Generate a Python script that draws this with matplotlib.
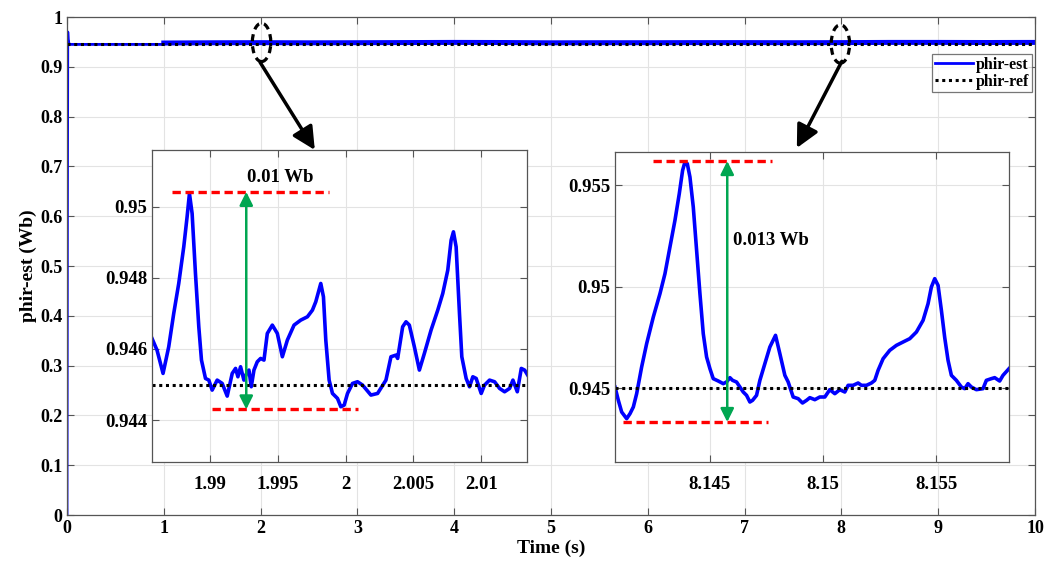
import numpy as np
import matplotlib
matplotlib.use("Agg")
import matplotlib.pyplot as plt
from matplotlib.patches import Ellipse

plt.rcParams['font.family'] = ['Liberation Serif', 'DejaVu Serif']
plt.rcParams['font.weight'] = 'bold'
plt.rcParams['axes.labelweight'] = 'bold'

# rotor flux reference (Wb)
phir_ref = 0.945

# full run: start-up transient, then the steady flux with ripple
t_start = [0.0, 0.004, 0.008, 0.012, 0.02, 0.04, 0.5, 1.0]
phi_start = [0.0, 0.6, 0.97, 0.955, 0.946, 0.945, 0.945, 0.945]
t_ripple = [1.0, 1.5, 2.0, 2.5, 3.0, 3.5, 4.0, 4.5, 5.0, 5.5, 6.0, 6.5,
            7.0, 7.5, 8.0, 8.5, 9.0, 9.5, 10.0]
phi_ripple = [0.9478, 0.9483, 0.9485, 0.9482, 0.9484, 0.9487, 0.949, 0.9488,
              0.9482, 0.9484, 0.9484, 0.9486, 0.9486, 0.9484, 0.9486, 0.949,
              0.949, 0.9488, 0.949]

# zoom around t = 2 s
t_z1 = [1.985739, 1.986108, 1.986552, 1.986971, 1.98734, 1.987709, 1.988079,
        1.988325, 1.988498, 1.988695, 1.988941, 1.989187, 1.989384, 1.98968,
        1.989926, 1.990172, 1.990542, 1.990911, 1.991281, 1.99165, 1.991897,
        1.992069, 1.992266, 1.992512, 1.992709, 1.992882, 1.993054, 1.993251,
        1.993497, 1.993744, 1.99399, 1.994236, 1.994606, 1.994975, 1.995345,
        1.995714, 1.996207, 1.996699, 1.997192, 1.997561, 1.997808, 1.998177,
        1.998374, 1.998547, 1.998793, 1.999039, 1.999409, 1.999655, 1.999901,
        2.000148, 2.000517, 2.000886, 2.001256, 2.001872, 2.002364, 2.00298,
        2.003349, 2.003719, 2.003842, 2.004212, 2.004458, 2.004704, 2.005074,
        2.005443, 2.005812, 2.006305, 2.006798, 2.007167, 2.007537, 2.007783,
        2.007955, 2.008152, 2.008399, 2.008571, 2.008891, 2.009138, 2.009384,
        2.00963, 2.01, 2.010246, 2.010615, 2.010985, 2.011354, 2.011724,
        2.012093, 2.012339, 2.01266, 2.012955, 2.013201, 2.013497]
phi_z1 = [0.946296, 0.945968, 0.945312, 0.946062, 0.947, 0.947844, 0.948875,
          0.949719, 0.950375, 0.949812, 0.948125, 0.946625, 0.945687, 0.945171,
          0.945124, 0.944843, 0.945124, 0.945031, 0.944674, 0.945312, 0.945453,
          0.945218, 0.9455, 0.945124, 0.945312, 0.945406, 0.944937, 0.945406,
          0.94564, 0.945734, 0.945687, 0.946437, 0.946672, 0.946437, 0.945781,
          0.94625, 0.946672, 0.946812, 0.946906, 0.947093, 0.947328, 0.947844,
          0.947468, 0.94625, 0.945124, 0.944749, 0.944609, 0.944374, 0.944421,
          0.944749, 0.945031, 0.945078, 0.944984, 0.944703, 0.944749, 0.945124,
          0.945781, 0.945828, 0.945734, 0.946625, 0.946765, 0.946672, 0.946062,
          0.945406, 0.945875, 0.946531, 0.947093, 0.947562, 0.948219, 0.949062,
          0.949297, 0.948875, 0.947, 0.945781, 0.945171, 0.944937, 0.945218,
          0.945171, 0.944749, 0.944984, 0.945124, 0.945078, 0.94489, 0.944796,
          0.94489, 0.945124, 0.944796, 0.945453, 0.945406, 0.945218]

# zoom around t = 8.15 s
t_z2 = [8.140809, 8.140956, 8.141103, 8.141324, 8.141471, 8.141618, 8.141765,
        8.141985, 8.142206, 8.1425, 8.142794, 8.143015, 8.143235, 8.143456,
        8.143647, 8.143794, 8.143897, 8.144, 8.144118, 8.144265, 8.144412,
        8.144559, 8.144706, 8.144853, 8.145, 8.145147, 8.145368, 8.145588,
        8.145735, 8.145882, 8.146, 8.146176, 8.146324, 8.146471, 8.146618,
        8.146765, 8.146882, 8.147059, 8.147206, 8.147426, 8.147647, 8.147897,
        8.148088, 8.148309, 8.148456, 8.148676, 8.148897, 8.149088, 8.149265,
        8.149412, 8.149632, 8.149853, 8.150074, 8.150294, 8.150515, 8.150735,
        8.150956, 8.151103, 8.151324, 8.151544, 8.151691, 8.151912, 8.152132,
        8.152279, 8.152426, 8.152647, 8.152941, 8.153235, 8.153529, 8.153824,
        8.154118, 8.154412, 8.154632, 8.154779, 8.154926, 8.155074, 8.155221,
        8.155368, 8.155515, 8.155662, 8.155882, 8.156103, 8.15625, 8.156397,
        8.156544, 8.156765, 8.157059, 8.157206, 8.157426, 8.157574, 8.157794,
        8.157941, 8.158206]
phi_z2 = [0.945049, 0.944391, 0.943816, 0.943487, 0.943734, 0.944063, 0.94472,
          0.946036, 0.947187, 0.948503, 0.949654, 0.950641, 0.951957, 0.953273,
          0.954589, 0.95574, 0.956151, 0.956069, 0.955411, 0.953931, 0.951793,
          0.949654, 0.947681, 0.94653, 0.945954, 0.945461, 0.945345, 0.945214,
          0.945296, 0.94551, 0.945378, 0.945296, 0.945049, 0.944803, 0.944638,
          0.944309, 0.944391, 0.944638, 0.945378, 0.946201, 0.947023, 0.947599,
          0.946694, 0.945625, 0.945296, 0.944556, 0.944474, 0.94426, 0.944391,
          0.944523, 0.944424, 0.944556, 0.944556, 0.944918, 0.94472, 0.944918,
          0.944803, 0.945132, 0.945132, 0.945247, 0.945132, 0.945132, 0.945247,
          0.945378, 0.945872, 0.946447, 0.946859, 0.947105, 0.94727, 0.947434,
          0.947763, 0.948339, 0.949161, 0.949983, 0.950395, 0.950066, 0.948832,
          0.947484, 0.946365, 0.945625, 0.945378, 0.945049, 0.944967, 0.945214,
          0.945049, 0.944918, 0.944967, 0.945378, 0.945461, 0.94551, 0.945345,
          0.945625, 0.945954]

# peak-to-peak markers in each zoom
z1_top, z1_bot = 0.950422, 0.944299
z2_top, z2_bot = 0.9562, 0.943322

blue = '#0000ff'
ref_ls = (0, (1, 1.2))
red_ls = (0, (2.5, 1.4))
grid_c = '#e3e3e3'
spine_c = '#555555'


def style_axes(ax, size):
    ax.grid(True, color=grid_c, lw=0.8)
    ax.set_axisbelow(True)
    ax.tick_params(direction='in', top=True, right=True, length=5,
                   labelsize=size, width=0.8, color=spine_c)
    for s in ax.spines.values():
        s.set_color(spine_c)
        s.set_linewidth(0.9)
    for lab in ax.get_xticklabels() + ax.get_yticklabels():
        lab.set_fontweight('bold')


fig = plt.figure(figsize=(10.47, 5.67), dpi=100)
ax = fig.add_axes([0.064, 0.0917, 0.9245, 0.8783])

ax.plot(t_start, phi_start, color=blue, lw=2.0, label='phir-est')
ax.plot(t_ripple, phi_ripple, color=blue, lw=3.6)
ax.axhline(phir_ref, color='black', ls=ref_ls, lw=2.2, label='phir-ref')

ax.set_xlim(0, 10)
ax.set_ylim(0, 1)
ax.set_xticks(np.arange(0, 11, 1))
ax.set_yticks(np.arange(0, 1.01, 0.1))
ax.set_yticklabels(['0', '0.1', '0.2', '0.3', '0.4', '0.5', '0.6', '0.7',
                    '0.8', '0.9', '1'])
style_axes(ax, 13)
ax.set_xlabel('Time (s)', fontsize=14, fontweight='bold', labelpad=2)
ax.set_ylabel('phir-est (Wb)', fontsize=14, fontweight='bold', labelpad=2)

leg = ax.legend(loc='upper right', bbox_to_anchor=(0.9985, 0.928),
                fontsize=11.5, frameon=True, fancybox=False, handlelength=2.4,
                handletextpad=0.2, borderpad=0.15, labelspacing=0.05,
                borderaxespad=0.1)
leg.get_frame().set_edgecolor('#555555')
leg.get_frame().set_linewidth(0.9)
for txt in leg.get_texts():
    txt.set_fontweight('bold')

# dashed ellipses on the zoomed spots and arrows to the insets
for cx, cy in [(2.01, 0.949), (7.99, 0.9458)]:
    ax.add_patch(Ellipse((cx, cy), 0.19, 0.077, fill=False, ec='black',
                         lw=2.3, ls=(0, (2.2, 1.6)), zorder=5))
arrow_kw = dict(arrowstyle='-|>,head_length=0.6,head_width=0.3',
                color='black', lw=2.5, mutation_scale=23,
                shrinkA=0, shrinkB=0)
ax.annotate('', xy=(2.56, 0.733), xytext=(1.995, 0.909), arrowprops=arrow_kw)
ax.annotate('', xy=(7.54, 0.737), xytext=(8.005, 0.911), arrowprops=arrow_kw)

green_kw = dict(arrowstyle='<|-|>', color='#00a651', lw=1.8,
                mutation_scale=20, shrinkA=0, shrinkB=0)

# inset around 2 s
ax1 = fig.add_axes([0.1452, 0.1852, 0.3582, 0.5503])
ax1.plot(t_z1, phi_z1, color=blue, lw=2.6)
ax1.axhline(phir_ref, color='black', ls=ref_ls, lw=2.2)
ax1.plot([1.987217, 1.998793], [z1_top, z1_top], color='red', ls=red_ls, lw=2.4)
ax1.plot([1.990172, 2.000886], [z1_bot, z1_bot], color='red', ls=red_ls, lw=2.4)
ax1.annotate('', xy=(1.992685, z1_top), xytext=(1.992685, z1_bot),
             arrowprops=green_kw)
ax1.text(1.995172, 0.950825, '0.01 Wb', fontsize=13.5, fontweight='bold',
         ha='center', va='center')
ax1.set_xlim(1.98574, 2.01338)
ax1.set_ylim(0.94282, 0.9516)
ax1.set_xticks([1.99, 1.995, 2.0, 2.005, 2.01])
ax1.set_xticklabels(['1.99', '1.995', '2', '2.005', '2.01'])
ax1.set_yticks([0.944, 0.946, 0.948, 0.95])
ax1.set_yticklabels(['0.944', '0.946', '0.948', '0.95'])
style_axes(ax1, 13.5)
ax1.tick_params(axis='x', pad=10)

# inset around 8.15 s
ax2 = fig.add_axes([0.5874, 0.1852, 0.3763, 0.5467])
ax2.plot(t_z2, phi_z2, color=blue, lw=2.6)
ax2.axhline(phir_ref, color='black', ls=ref_ls, lw=2.2)
ax2.plot([8.1425, 8.14772], [z2_top, z2_top], color='red', ls=red_ls, lw=2.4)
ax2.plot([8.141147, 8.147574], [z2_bot, z2_bot], color='red', ls=red_ls, lw=2.4)
ax2.annotate('', xy=(8.145765, z2_top), xytext=(8.145765, z2_bot),
             arrowprops=green_kw)
ax2.text(8.146, 0.952286, '0.013 Wb', fontsize=13.5, fontweight='bold',
         ha='left', va='center')
ax2.set_xlim(8.140809, 8.158206)
ax2.set_ylim(0.941349, 0.956645)
ax2.set_xticks([8.145, 8.15, 8.155])
ax2.set_xticklabels(['8.145', '8.15', '8.155'])
ax2.set_yticks([0.945, 0.95, 0.955])
ax2.set_yticklabels(['0.945', '0.95', '0.955'])
style_axes(ax2, 13.5)
ax2.tick_params(axis='x', pad=10)

fig.savefig('out.png', dpi=100)
